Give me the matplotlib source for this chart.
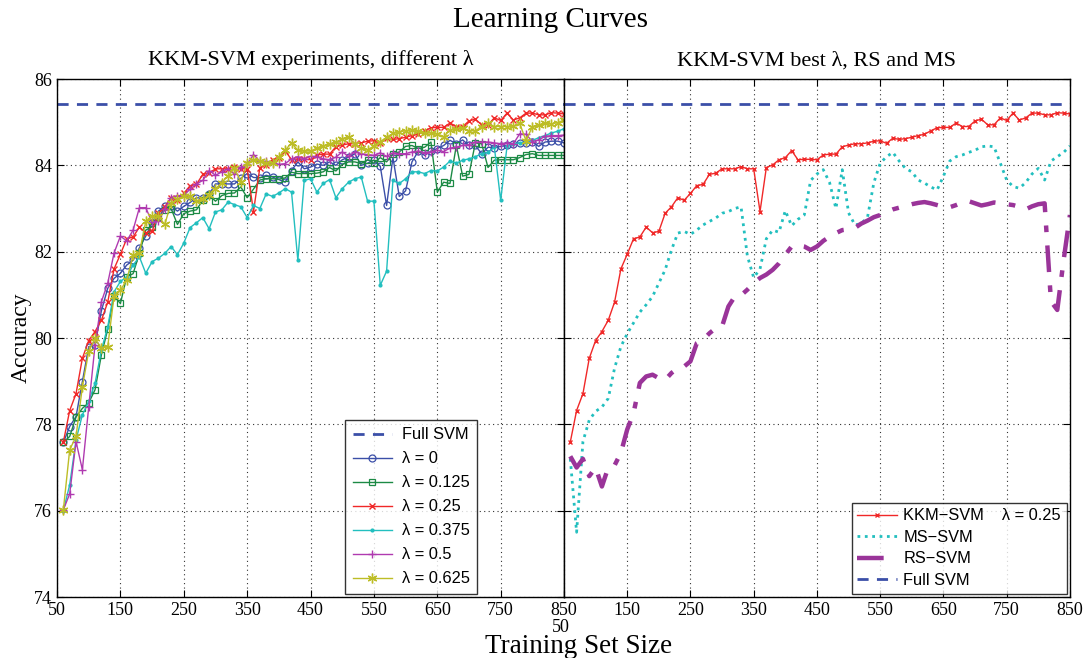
import numpy as np
import matplotlib
matplotlib.use("Agg")
import matplotlib.pyplot as plt

# training set sizes
sizes = np.arange(60, 851, 10)

full_svm = 85.42

lam0 = [77.58, 77.95, 78.18, 78.99, 79.8, 79.84, 80.63, 81.15, 81.38, 81.5,
        81.69, 81.8, 82.09, 82.36, 82.67, 82.94, 83.05, 83.05, 82.94, 83.05,
        83.14, 83.25, 83.24, 83.33, 83.57, 83.57, 83.57, 83.57, 83.7, 83.81,
        83.72, 83.71, 83.77, 83.73, 83.67, 83.61, 83.88, 84.08, 83.92, 83.96,
        84.03, 84.0, 84.08, 84.0, 84.13, 84.19, 84.27, 84.0, 84.05, 84.12,
        83.98, 83.07, 84.18, 83.28, 83.41, 84.08, 84.33, 84.23, 84.33, 84.39,
        84.46, 84.58, 84.5, 84.59, 84.46, 84.46, 84.27, 84.42, 84.41, 84.44,
        84.46, 84.49, 84.52, 84.52, 84.54, 84.44, 84.54, 84.56, 84.56, 84.52]

lam0125 = [77.58, 77.72, 78.17, 78.37, 78.5, 78.8, 79.61, 80.2, 80.97, 80.8,
           81.42, 81.49, 81.96, 82.5, 82.58, 82.8, 82.96, 83.0, 82.63, 82.88,
           82.94, 82.97, 83.19, 83.31, 83.17, 83.3, 83.35, 83.36, 83.5, 83.25,
           83.45, 83.66, 83.69, 83.69, 83.68, 83.71, 83.84, 83.81, 83.81, 83.81,
           83.82, 83.85, 83.95, 83.87, 84.02, 84.08, 84.08, 84.04, 84.13, 84.05,
           84.18, 84.08, 84.27, 84.31, 84.44, 84.46, 84.39, 84.42, 84.54, 83.38,
           83.61, 83.58, 84.46, 83.75, 83.79, 84.52, 84.5, 83.95, 84.12, 84.13,
           84.13, 84.13, 84.18, 84.25, 84.27, 84.23, 84.23, 84.23, 84.23, 84.23]

lam025 = [77.59, 78.32, 78.71, 79.53, 79.94, 80.15, 80.41, 80.83, 81.6, 81.94,
          82.3, 82.34, 82.57, 82.44, 82.47, 82.89, 83.04, 83.25, 83.19, 83.35,
          83.53, 83.56, 83.79, 83.82, 83.92, 83.92, 83.92, 83.97, 83.92, 83.92,
          82.93, 83.95, 84.01, 84.13, 84.18, 84.34, 84.13, 84.14, 84.14, 84.13,
          84.24, 84.26, 84.26, 84.43, 84.47, 84.5, 84.5, 84.52, 84.56, 84.57,
          84.51, 84.63, 84.6, 84.62, 84.65, 84.69, 84.72, 84.8, 84.87, 84.88,
          84.88, 84.98, 84.9, 84.9, 85.03, 85.07, 84.94, 84.94, 85.1, 85.04,
          85.21, 85.05, 85.1, 85.21, 85.21, 85.17, 85.17, 85.22, 85.21, 85.19]

lam0375 = [76.0, 76.6, 77.64, 78.22, 78.53, 78.95, 79.72, 80.26, 81.07, 81.31,
           81.42, 81.69, 81.88, 81.5, 81.77, 81.85, 81.96, 82.12, 81.93, 82.2,
           82.56, 82.67, 82.79, 82.53, 82.92, 82.97, 83.15, 83.09, 83.04, 82.79,
           83.07, 83.0, 83.34, 83.28, 83.36, 83.46, 83.38, 81.8, 83.65, 83.69,
           83.38, 83.58, 83.67, 83.25, 83.46, 83.61, 83.69, 83.73, 83.17, 83.17,
           81.22, 81.55, 83.65, 83.58, 83.69, 83.85, 83.85, 83.81, 83.88, 83.87,
           83.96, 84.1, 84.05, 84.12, 84.15, 84.2, 84.27, 84.3, 84.42, 83.19,
           84.44, 84.5, 84.52, 84.54, 84.58, 84.64, 84.69, 84.75, 84.79, 84.85]

lam05 = [76.02, 76.39, 77.6, 76.95, 78.4, 79.84, 80.84, 81.27, 81.97, 82.36,
         82.25, 82.5, 83.02, 83.02, 82.68, 82.7, 83.0, 83.25, 83.3, 83.3,
         83.45, 83.57, 83.65, 83.88, 83.77, 83.85, 83.92, 83.8, 83.96, 84.02,
         84.25, 84.1, 84.09, 84.05, 84.02, 84.04, 84.15, 84.2, 84.15, 84.21,
         84.2, 84.15, 84.13, 84.19, 84.31, 84.21, 84.31, 84.27, 84.25, 84.23,
         84.29, 84.21, 84.29, 84.27, 84.27, 84.31, 84.33, 84.29, 84.31, 84.35,
         84.32, 84.4, 84.42, 84.46, 84.48, 84.54, 84.54, 84.54, 84.52, 84.5,
         84.52, 84.5, 84.73, 84.72, 84.55, 84.59, 84.67, 84.69, 84.69, 84.7]

lam0625 = [76.02, 77.41, 77.72, 78.87, 79.69, 79.99, 79.76, 79.8, 80.97, 81.11,
           81.34, 81.92, 81.98, 82.7, 82.83, 82.82, 82.63, 83.13, 83.21, 83.28,
           83.3, 83.17, 83.21, 83.32, 83.45, 83.6, 83.76, 83.93, 83.62, 84.05,
           84.13, 84.1, 84.06, 84.05, 84.2, 84.35, 84.52, 84.35, 84.33, 84.33,
           84.4, 84.45, 84.5, 84.53, 84.62, 84.65, 84.5, 84.4, 84.36, 84.45,
           84.55, 84.65, 84.74, 84.78, 84.8, 84.83, 84.8, 84.74, 84.76, 84.72,
           84.66, 84.82, 84.84, 84.86, 84.8, 84.8, 84.9, 84.97, 84.9, 84.9,
           84.9, 84.91, 84.97, 84.57, 84.9, 84.94, 84.97, 84.96, 84.99, 85.05]

ms_svm = [77.2, 75.5, 77.6, 78.1, 78.3, 78.4, 78.6, 79.3, 79.8, 80.1,
          80.35, 80.6, 80.77, 80.96, 81.27, 81.58, 82.04, 82.43, 82.47, 82.4,
          82.5, 82.62, 82.7, 82.78, 82.89, 82.93, 83.0, 83.04, 81.9, 81.4,
          81.6, 82.3, 82.5, 82.45, 82.95, 82.6, 82.75, 82.85, 83.65, 83.8,
          83.9, 83.6, 83.0, 83.9, 82.9, 82.62, 82.65, 82.8, 83.6, 84.05,
          84.2, 84.3, 84.1, 83.93, 83.85, 83.66, 83.59, 83.5, 83.43, 83.75,
          84.1, 84.2, 84.24, 84.3, 84.35, 84.43, 84.45, 84.43, 84.05, 83.66,
          83.51, 83.47, 83.6, 83.8, 83.93, 83.66, 84.1, 84.2, 84.3, 84.45]

rs_svm = [77.26, 77.0, 77.2, 76.8, 77.0, 76.56, 77.0, 77.05, 77.34, 77.88,
          78.26, 78.96, 79.11, 79.15, 79.07, 79.03, 79.19, 79.3, 79.34, 79.46,
          79.88, 79.96, 80.11, 80.23, 80.27, 80.73, 80.96, 80.99, 81.12, 81.27,
          81.39, 81.47, 81.58, 81.73, 81.93, 82.12, 82.15, 82.12, 82.04, 82.12,
          82.25, 82.35, 82.43, 82.5, 82.52, 82.55, 82.65, 82.72, 82.8, 82.85,
          82.92, 82.98, 83.02, 83.06, 83.1, 83.13, 83.15, 83.12, 83.08, 83.04,
          83.03, 83.08, 83.14, 83.17, 83.12, 83.07, 83.1, 83.14, 83.12, 83.1,
          83.08, 83.04, 82.98, 83.05, 83.1, 83.12, 80.85, 80.65, 81.8, 82.85]

serif = "Liberation Serif"
sans = "Liberation Sans"

c_blue = "#3b4fa8"
c_green = "#1c8a45"
c_red = "#f02828"
c_cyan = "#22bfbf"
c_mag = "#b03ab0"
c_olive = "#bdbd26"
c_rs = "#9a3499"

fig = plt.figure(figsize=(10.86, 6.58), dpi=100)
ax1 = fig.add_axes([0.0525, 0.0927, 0.4669, 0.7872])
ax2 = fig.add_axes([0.5193, 0.0927, 0.4659, 0.7872])

ax1.axhline(full_svm, color=c_blue, ls="--", lw=2, dashes=(4, 3), label="Full SVM")
ax1.plot(sizes, lam0, color=c_blue, lw=1, marker="o", ms=5, mfc="none", mew=0.9, label="λ = 0")
ax1.plot(sizes, lam0125, color=c_green, lw=1, marker="s", ms=4.5, mfc="none", mew=0.9, label="λ = 0.125")
ax1.plot(sizes, lam025, color=c_red, lw=1, marker="x", ms=4, mew=1, label="λ = 0.25")
ax1.plot(sizes, lam0375, color=c_cyan, lw=1, marker=".", ms=4, label="λ = 0.375")
ax1.plot(sizes, lam05, color=c_mag, lw=1, marker="+", ms=6, mew=1, label="λ = 0.5")
ax1.plot(sizes, lam0625, color=c_olive, lw=1, marker=(6, 2, 0), ms=7, mew=1, label="λ = 0.625")

ax2.plot(sizes, lam025, color=c_red, lw=1, marker="x", ms=3.5, mew=1, label="KKM−SVM    λ = 0.25")
ax2.plot(sizes, ms_svm, color=c_cyan, lw=2, ls=":", label="MS−SVM")
ax2.plot(sizes, rs_svm, color=c_rs, lw=3.2, ls="-.", dashes=(6, 3, 1.5, 3), label="RS−SVM")
ax2.axhline(full_svm, color=c_blue, ls="--", lw=2, dashes=(4, 3), label="Full SVM")

xt = np.arange(50, 851, 100)
for ax in (ax1, ax2):
    ax.set_xlim(50, 850)
    ax.set_ylim(74, 86)
    ax.set_xticks(xt)
    ax.set_yticks(np.arange(74, 87, 2))
    ax.grid(True, ls=(0, (1, 3)), color="#333333", lw=0.8)
    ax.tick_params(direction="in", top=True, right=True, length=5, width=0.8,
                   labelsize=13)
    for s in ax.spines.values():
        s.set_linewidth(1)
    for lab in ax.get_xticklabels() + ax.get_yticklabels():
        lab.set_fontfamily(serif)

ax2.set_yticklabels([])
# the right panel's "50" sits one line below the left panel's "850"
ax2.set_xticklabels([""] + [str(v) for v in xt[1:]], fontfamily=serif, fontsize=13)
fig.text(0.5165, 0.046, "50", ha="center", va="center", fontfamily=serif, fontsize=13)

ax1.set_ylabel("Accuracy", fontfamily=serif, fontsize=17, labelpad=2)
ax1.set_title("KKM-SVM experiments, different λ", fontfamily=serif, fontsize=16, pad=10)
ax2.set_title("KKM-SVM best λ, RS and MS", fontfamily=serif, fontsize=16, pad=10)
fig.text(0.507, 0.970, "Learning Curves", ha="center", va="center", fontfamily=serif, fontsize=21)
fig.text(0.533, 0.017, "Training Set Size", ha="center", va="center", fontfamily=serif, fontsize=19.5)

leg1 = ax1.legend(loc="lower left", bbox_to_anchor=(0.562, 0.0), borderaxespad=0.2,
                  prop={"family": sans, "size": 11.8}, frameon=True, fancybox=False,
                  edgecolor="black", handlelength=2.4, borderpad=0.45, labelspacing=0.55,
                  handletextpad=0.6)
leg1.get_frame().set_linewidth(1)
leg2 = ax2.legend(loc="lower right", bbox_to_anchor=(1.0, 0.0), borderaxespad=0.2,
                  prop={"family": sans, "size": 11.8}, frameon=True, fancybox=False,
                  edgecolor="black", handlelength=2.4, borderpad=0.35, labelspacing=0.4,
                  handletextpad=0.4)
leg2.get_frame().set_linewidth(1)

fig.savefig("out.png", dpi=100)
